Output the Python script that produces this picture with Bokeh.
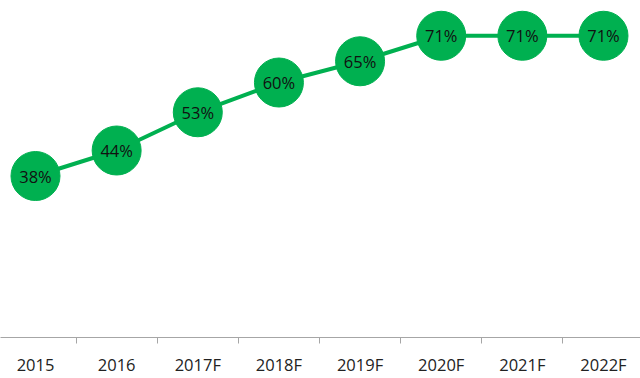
from bokeh.plotting import figure
from bokeh.models import Range1d, FixedTicker, ColumnDataSource
from bokeh.embed import file_html
from bokeh.resources import INLINE
from bokeh.core.properties import value

years = ["2015", "2016", "2017F", "2018F", "2019F", "2020F", "2021F", "2022F"]
shares = [38, 44, 53, 60, 65, 71, 71, 71]
labels = [f"{v}%" for v in shares]

xs = list(range(len(years)))
src = ColumnDataSource(dict(x=xs, y=shares, lab=labels))

GREEN = "#00B050"

p = figure(width=640, height=378, output_backend="svg", toolbar_location=None,
           x_range=Range1d(-0.4313, 7.456), y_range=Range1d(0, 79.3),
           min_border_left=0, min_border_right=0, min_border_top=0, min_border_bottom=37)
p.outline_line_color = None
p.xgrid.visible = False
p.ygrid.visible = False
p.yaxis.visible = False

p.line("x", "y", source=src, line_color=GREEN, line_width=4)
p.scatter("x", "y", source=src, size=49, fill_color=GREEN, line_color=GREEN, line_width=1)
p.text("x", "y", text="lab", source=src, text_align="center", text_baseline="middle",
       text_font=value("Open Sans"), text_font_size="16.5px", text_color="#111111")

ax = p.xaxis[0]
ax.ticker = FixedTicker(ticks=xs, minor_ticks=[i + 0.5 for i in range(len(years) - 1)])
ax.major_label_overrides = {i: y for i, y in enumerate(years)}
ax.major_tick_line_color = None
ax.major_tick_out = 6
ax.major_tick_in = 0
ax.minor_tick_line_color = "#a6a6a6"
ax.minor_tick_out = 6
ax.minor_tick_in = 0
ax.axis_line_color = "#a6a6a6"
ax.axis_line_width = 1
ax.major_label_text_font = "Open Sans"
ax.major_label_text_font_size = "16.5px"
ax.major_label_text_color = "#222222"
ax.major_label_standoff = 9

open("out.html", "w").write(file_html(p, INLINE))
